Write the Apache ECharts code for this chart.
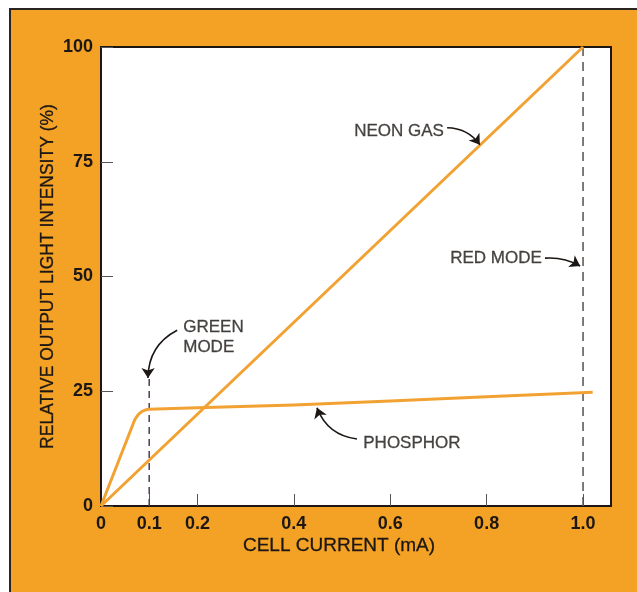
<!DOCTYPE html>
<html>
<head>
<meta charset="utf-8">
<script src="https://cdn.jsdelivr.net/npm/echarts@6/dist/echarts.min.js"></script>
<style>
  html, body { margin: 0; padding: 0; background: #ffffff; }
  #wrap { position: relative; width: 637px; height: 592px; overflow: hidden; background: #ffffff; }
  #panel { position: absolute; left: 9px; top: 8px; width: 640px; height: 600px;
           background: #F4A226; border-left: 2px solid #2a2420; border-top: 2px solid #2a2420; }
  #chart { position: absolute; left: 0; top: 0; width: 637px; height: 592px; }
</style>
</head>
<body>
<div id="wrap"><div id="panel"></div><div id="chart"></div></div>
<script>
// ---- data ----
const xTickValues = [0, 0.1, 0.2, 0.4, 0.6, 0.8, 1.0];
const yTickValues = [0, 25, 50, 75, 100];

const neonGas = [[0, 0], [0.5, 50], [1.0, 100]];
const phosphor = [
  [0, 0], [0.07, 18.8], [0.078, 20.0], [0.085, 20.6], [0.093, 20.95], [0.1, 21.1],
  [0.2, 21.4], [0.4, 22.0], [0.6, 22.9], [0.8, 23.8], [1.02, 24.8]
];
const greenModeLine = [[0.1, 0], [0.1, 28]];
const redModeLine = [[1.0, 0], [1.0, 100]];

// annotation labels (anchor in data coords) and their arrows
const labelTexts = ['NEON GAS', 'RED MODE', 'GREEN\nMODE', 'PHOSPHOR'];
const labelAnchors = [[0.714, 81.7], [0.917, 53.9], [0.168, 36.8], [0.5415, 13.7]];
const labelSides = ['left', 'left', 'right', 'right'];
const arrowFrom = [[0.718, 82.4], [0.921, 54.0], [0.158, 38.3], [0.531, 14.6]];
const arrowTo = [[0.786, 78.7], [0.994, 52.3], [0.0975, 27.9], [0.448, 21.4]];
const arrowBend = [0.25, 0.15, -0.3, 0.3];

const ORANGE = '#F2A232';
const INK = '#1c1714';
const FONT = '"Liberation Sans", Arial, sans-serif';

const chart = echarts.init(document.getElementById('chart'), null, { renderer: 'canvas' });

const option = {
  backgroundColor: 'transparent',
  animation: false,
  grid: {
    left: 101, right: 26, top: 47, bottom: 86,
    show: true, backgroundColor: '#ffffff', borderColor: INK, borderWidth: 2
  },
  xAxis: {
    type: 'value', min: 0, max: 1.058,
    name: 'CELL CURRENT (mA)', nameLocation: 'middle', nameGap: 30, nameMoveOverlap: false,
    nameTextStyle: { color: INK, fontFamily: FONT, fontSize: 19, padding: [0, 34, 0, 0],
                     textBorderColor: INK, textBorderWidth: 0.3 },
    axisLine: { show: true, lineStyle: { color: INK, width: 2 } },
    axisTick: { show: true, inside: true, length: 12, customValues: xTickValues.filter(v => v > 0),
                lineStyle: { color: '#555', width: 1 } },
    axisLabel: { show: true, customValues: xTickValues, margin: 9, color: INK, fontFamily: FONT,
                 fontSize: 18, fontWeight: 'bold',
                 formatter: v => (v === 0 ? '0' : v.toFixed(1)) },
    splitLine: { show: false }
  },
  yAxis: {
    type: 'value', min: 0, max: 100, interval: 25,
    name: 'RELATIVE OUTPUT LIGHT INTENSITY (%)', nameLocation: 'middle', nameGap: 44, nameRotate: 90,
    nameMoveOverlap: false,
    nameTextStyle: { color: INK, fontFamily: FONT, fontSize: 17.5, textBorderColor: INK, textBorderWidth: 0.3 },
    axisLine: { show: true, lineStyle: { color: INK, width: 2 } },
    axisTick: { show: true, inside: true, length: 12, lineStyle: { color: '#555', width: 1 } },
    axisLabel: { show: true, margin: 8, color: INK, fontFamily: FONT, fontSize: 18, fontWeight: 'bold',
                 customValues: yTickValues },
    splitLine: { show: false }
  },
  series: [
    {
      name: 'Green mode', type: 'line', data: greenModeLine, symbol: 'none', z: 3,
      lineStyle: { color: '#4d3a55', width: 1.5, type: [7, 5] }
    },
    {
      name: 'Red mode', type: 'line', data: redModeLine, symbol: 'none', z: 3,
      lineStyle: { color: '#55504c', width: 1.5, type: [9, 6] }
    },
    {
      name: 'Neon gas', type: 'line', data: neonGas, symbol: 'none', z: 4,
      lineStyle: { color: ORANGE, width: 3 }
    },
    {
      name: 'Phosphor', type: 'line', data: phosphor, symbol: 'none', z: 4,
      lineStyle: { color: ORANGE, width: 3, join: 'round' }
    },
    {
      name: 'Arrows', type: 'lines', coordinateSystem: 'cartesian2d', z: 5,
      symbol: ['none', 'arrow'], symbolSize: [0, 10],
      data: arrowFrom.map((p, i) => ({
        coords: [p, arrowTo[i]],
        lineStyle: { curveness: arrowBend[i] }
      })),
      lineStyle: { color: INK, width: 1.6, opacity: 1 }
    },
    {
      name: 'Labels', type: 'scatter', z: 6, symbol: 'circle', symbolSize: 0.5,
      itemStyle: { color: 'rgba(0,0,0,0)' },
      data: labelAnchors.map((p, i) => ({
        value: p,
        label: { show: true, formatter: labelTexts[i], position: labelSides[i], distance: 1,
                 align: labelSides[i] === 'left' ? 'right' : 'left',
                 color: INK, fontFamily: FONT, fontSize: 17, lineHeight: 20,
                 textBorderColor: INK, textBorderWidth: 0.3 }
      })),
      silent: true
    }
  ]
};
chart.setOption(option);
</script>
</body>
</html>
